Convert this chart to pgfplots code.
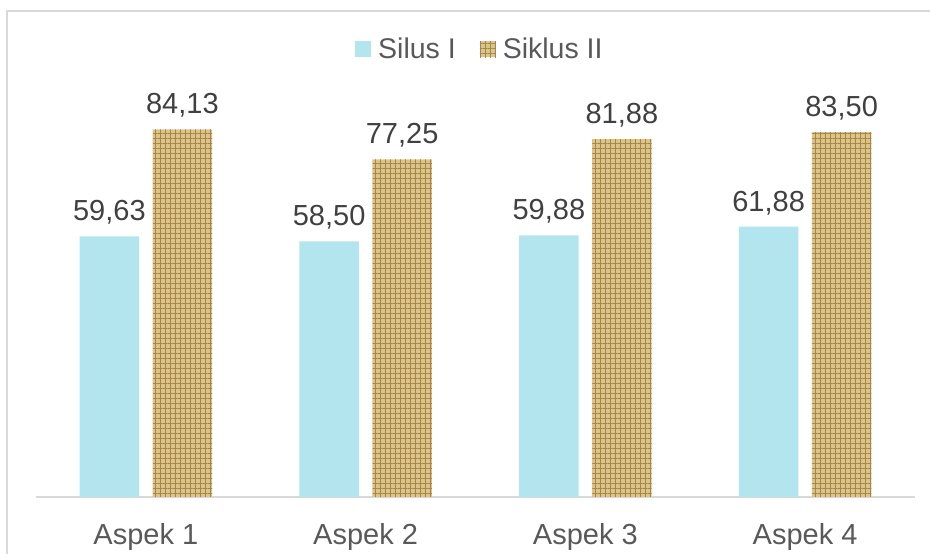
\documentclass[border=0pt]{standalone}
\usepackage{pgfplots}
\pgfplotsset{compat=1.18}
\usepackage{fontspec}
\setmainfont{Liberation Sans}
\usetikzlibrary{patterns.meta}
\definecolor{blueb}{HTML}{B3E5EE}
\definecolor{brownd}{HTML}{A4854A}
\definecolor{brownl}{HTML}{DCC488}
\definecolor{framec}{HTML}{D9D9D9}
\definecolor{tickc}{HTML}{595959}
\definecolor{labc}{HTML}{404040}
\begin{document}
\begin{tikzpicture}
\path[use as bounding box] (0pt,0pt) rectangle (930pt,554pt);
\draw[framec, line width=2pt] (7pt,0pt) -- (7pt,543pt) -- (930pt,543pt);
\begin{axis}[
  at={(36pt,57pt)}, anchor=south west,
  scale only axis, width=879pt, height=437pt,
  ybar=13.5pt, bar width=59.5pt,
  xmin=-0.5, xmax=3.5, ymin=0, ymax=100,
  xtick={0,1,2,3},
  xticklabels={Aspek 1,Aspek 2,Aspek 3,Aspek 4},
  axis y line=none,
  axis x line*=bottom,
  x axis line style={draw=framec, line width=1.5pt, -},
  xtick style={draw=none},
  xticklabel style={font=\fontsize{29}{34}\selectfont, text=tickc, inner sep=0pt, anchor=north, yshift=-22pt},
  clip=false,
  nodes near coords,
  /pgf/number format/.cd, fixed, fixed zerofill, precision=2, use comma, assume math mode=true,
  /pgfplots/.cd,
  every node near coord/.append style={font=\fontsize{29}{34}\selectfont, text=labc, inner sep=0pt, anchor=base, yshift=15.5pt},
  legend style={at={(axis description cs:0.505,1.025)}, anchor=center, draw=none, fill=none,
    legend columns=2, font=\fontsize{28.5}{34}\selectfont, text=tickc,
    /tikz/every odd column/.append style={column sep=5pt},
    /tikz/every even column/.append style={column sep=22pt}},
  legend image code/.code={\fill[#1] (0pt,-8pt) rectangle (16pt,8pt);},
]
\addplot[fill=blueb, draw=none] coordinates {(0,59.63) (1,58.50) (2,59.88) (3,61.88)};
\addplot[fill=brownl, draw=none, postaction={pattern={Hatch[angle=0,distance=5pt,line width=1pt]}, pattern color=brownd}] coordinates {(0,84.13) (1,77.25) (2,81.88) (3,83.50)};
\legend{Silus I, Siklus II}
\end{axis}
\end{tikzpicture}
\end{document}
